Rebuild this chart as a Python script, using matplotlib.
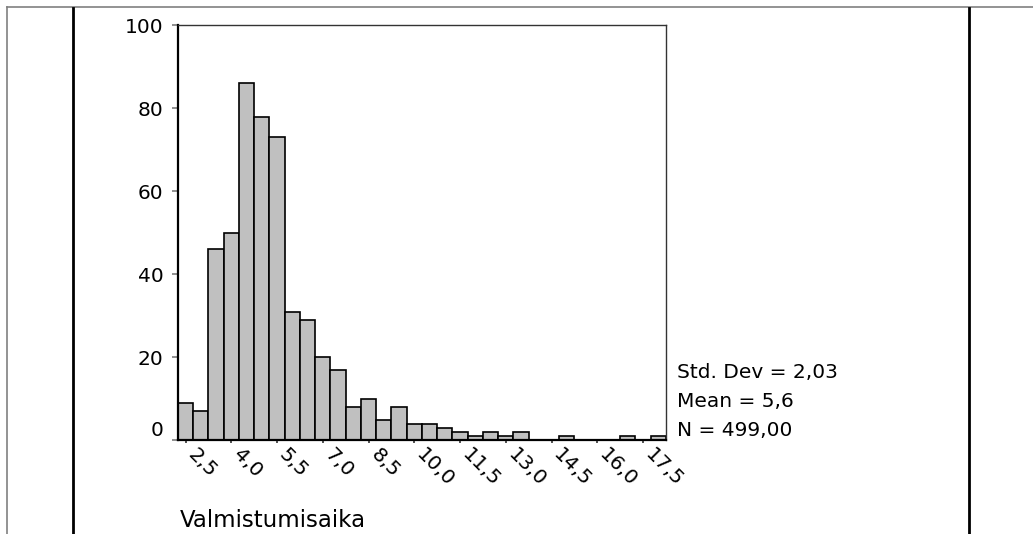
import matplotlib.pyplot as plt
from matplotlib.lines import Line2D
from matplotlib.transforms import ScaledTranslation

# histogrammin luokat (keskikohdat, leveys 0,5) ja frekvenssit
luokat = [2.5, 3.0, 3.5, 4.0, 4.5, 5.0, 5.5, 6.0, 6.5, 7.0, 7.5, 8.0,
          8.5, 9.0, 9.5, 10.0, 10.5, 11.0, 11.5, 12.0, 12.5, 13.0, 13.5, 14.0,
          14.5, 15.0, 15.5, 16.0, 16.5, 17.0, 17.5, 18.0]
frekvenssit = [9, 7, 46, 50, 86, 78, 73, 31, 29, 20, 17, 8,
               10, 5, 8, 4, 4, 3, 2, 1, 2, 1, 2, 0,
               0, 1, 0, 0, 0, 1, 0, 1]
leveys = 0.5

x_tikit = [2.5, 4.0, 5.5, 7.0, 8.5, 10.0, 11.5, 13.0, 14.5, 16.0, 17.5]
x_nimet = ['2,5', '4,0', '5,5', '7,0', '8,5', '10,0', '11,5', '13,0', '14,5', '16,0', '17,5']
y_tikit = [0, 20, 40, 60, 80, 100]

tilastot = ['Std. Dev = 2,03', 'Mean = 5,6', 'N = 499,00']

plt.rcParams['font.family'] = ['DejaVu Sans']

fig = plt.figure(figsize=(10.33, 5.34), dpi=100)
fig.patch.set_facecolor('white')

# taulukon reunat
fig.add_artist(Line2D([0.007, 1.0], [0.9863, 0.9863], color='#808080', lw=1.2))
fig.add_artist(Line2D([0.007, 0.007], [0.0, 0.9863], color='#808080', lw=1.2))
fig.add_artist(Line2D([0.0704, 0.0704], [0.0, 0.985], color='black', lw=2))
fig.add_artist(Line2D([0.938, 0.938], [0.0, 0.985], color='black', lw=2))

ax = fig.add_axes([0.1723, 0.1755, 0.4724, 0.7771])
ax.bar(luokat, frekvenssit, width=leveys, color='#c0c0c0', edgecolor='black', linewidth=1.2)

ax.set_xlim(2.25, 18.25)
ax.set_ylim(0, 100)

ax.spines['left'].set_linewidth(1.6)
ax.spines['bottom'].set_linewidth(1.6)
for s in ['top', 'right']:
    ax.spines[s].set_linewidth(1.0)
    ax.spines[s].set_color('#333333')

ax.set_yticks(y_tikit)
ax.tick_params(axis='y', direction='out', length=4.3, width=1.1, color='#707070',
               pad=6.0, labelsize=14.5)
ax.get_yticklabels()[0].set_va('bottom')

ax.set_xticks(x_tikit, x_nimet)
ax.tick_params(axis='x', direction='out', length=2.5, width=1.2, color='#333333',
               pad=4.5, labelsize=14.5)
siirto = ScaledTranslation(5 / 100, -2 / 100, fig.dpi_scale_trans)
for t in ax.get_xticklabels():
    t.set_rotation(-45)
    t.set_rotation_mode('anchor')
    t.set_ha('left')
    t.set_va('center')
    t.set_transform(t.get_transform() + siirto)

fig.text(0.1743, 0.0131, 'Valmistumisaika', fontsize=16.5, va='baseline', ha='left')

for teksti, y in zip(tilastot, [0.2927, 0.2369, 0.1835]):
    fig.text(0.6554, y, teksti, fontsize=14.5, va='baseline', ha='left')

fig.savefig('out.png', dpi=100, facecolor='white')
